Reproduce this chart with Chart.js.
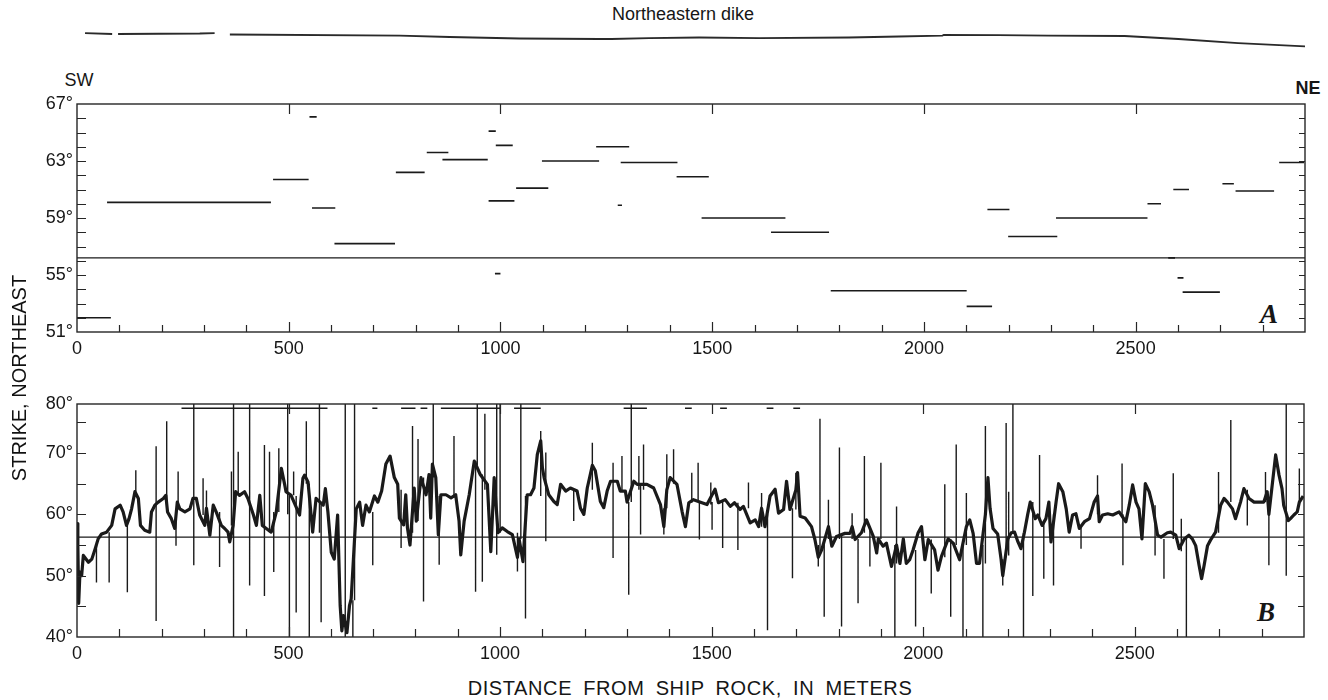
<!DOCTYPE html>
<html><head><meta charset="utf-8">
<script src="https://cdn.jsdelivr.net/npm/chart.js@4.4.1/dist/chart.umd.min.js"></script>
<style>
html,body{margin:0;padding:0;background:#fff}
body{width:1328px;height:700px;overflow:hidden;position:relative;font-family:"Liberation Sans",Arial,Helvetica,sans-serif;color:#161616}
canvas{position:absolute;left:0}
.t{position:absolute;white-space:nowrap;line-height:1;color:#161616}
.rot{filter:grayscale(100%);color:#111}
</style></head>
<body>
<div class="t" style="left:683px;top:14px;transform:translate(-50%,-50%);font-size:18px">Northeastern dike</div>
<div class="t" style="left:79px;top:80px;transform:translate(-50%,-50%);font-size:18px">SW</div>
<div class="t" style="left:1308px;top:88px;transform:translate(-50%,-50%);font-size:18px;font-weight:bold">NE</div>
<div class="t rot" style="left:19px;top:378px;transform:translate(-50%,-50%) rotate(-90deg);font-size:20px">STRIKE, NORTHEAST</div>
<div class="t" style="left:690px;top:688px;transform:translate(-50%,-50%);font-size:20px;letter-spacing:0.6px;word-spacing:5px">DISTANCE FROM SHIP ROCK, IN METERS</div>
<div class="t" style="left:1269px;top:314px;transform:translate(-50%,-50%);font-size:27px;font-weight:bold;font-style:italic;font-family:'Liberation Serif','DejaVu Serif',serif">A</div>
<div class="t" style="left:1266px;top:612px;transform:translate(-50%,-50%);font-size:27px;font-weight:bold;font-style:italic;font-family:'Liberation Serif','DejaVu Serif',serif">B</div>

<canvas id="dike" width="1328" height="40" style="top:20px"></canvas>
<canvas id="panelA" width="1328" height="300" style="top:80px"></canvas>
<canvas id="panelB" width="1328" height="290" style="top:380px"></canvas>

<script>
// ---------- tick labels ----------
const xTickValues = [0, 500, 1000, 1500, 2000, 2500];
const aTickValues = [51, 55, 59, 63, 67];
const bTickValues = [40, 50, 60, 70, 78];
const bTickLabels = ['40°', '50°', '60°', '70°', '80°'];

// ---------- map trace of the northeastern dike (distance m, lateral offset m) ----------
const dikeDist   = [19, 83, 90, 97, 290, 325, 340, 361, 762, 880, 1045, 1233, 1262, 1351, 1469, 1611, 1823, 1941, 2044, 2047, 2176, 2294, 2474, 2601, 2742, 2900];
const dikeOffset = [33, 30.7, null, 30.7, 31.9, 33, null, 29.5, 27.1, 23.6, 20.1, 18.9, 18.9, 21.2, 22.4, 21.2, 22.4, 24.8, 27.1, 28.8, 28.3, 27.1, 26, 18.9, 9.4, 1.4];

// ---------- panel A: average strike over segments ----------
const segStart  = [0, 71, 463, 549, 555, 608, 753, 826, 863, 972, 972, 989, 987, 1037, 1098, 1226, 1284, 1277, 1416, 1475, 1639, 1780, 2101, 2150, 2199, 2312, 2528, 2577, 2589, 2599, 2611, 2705, 2736, 2839];
const segEnd    = [80, 458, 547, 566, 610, 751, 821, 877, 970, 989, 1033, 1029, 1000, 1113, 1233, 1304, 1418, 1287, 1492, 1673, 1776, 2101, 2161, 2202, 2315, 2528, 2560, 2593, 2626, 2613, 2699, 2732, 2827, 2898];
const segStrike = [52.0, 60.1, 61.7, 66.1, 59.7, 57.2, 62.2, 63.6, 63.1, 65.1, 60.2, 64.1, 55.1, 61.1, 63.0, 64.0, 62.9, 59.9, 61.9, 59.0, 58.0, 53.9, 52.8, 59.6, 57.7, 59.0, 60.0, 56.2, 61.0, 54.8, 53.8, 61.4, 60.9, 62.9];
const meanStrikeA = 56.2;

// ---------- panel B: continuous strike band ----------
const bandDist = [0,2,4,7,11,15,27,35,43,50,58,70,82,90,102,109,117,123,129,137,145,150,160,172,176,184,192,204,210,214,223,231,237,243,255,267,274,282,290,302,306,310,314,322,329,341,349,357,361,369,375,384,396,404,417,424,432,438,459,471,483,491,494,506,526,534,538,546,557,565,582,587,593,601,608,616,622,626,630,638,644,648,660,668,675,683,691,703,711,
720,730,740,750,758,762,772,777,781,787,797,802,813,825,832,836,840,848,854,860,872,884,895,903,907,915,927,939,953,970,978,986,995,1005,1017,1029,1041,1045,1054,1064,1072,1080,1088,1096,1100,1104,1115,1127,1135,1143,1155,1166,1182,1190,1198,1206,1218,1225,1237,1245,1253,1261,1277,1284,1296,1300,1316,1324,1347,1363,1379,1387,1394,1402,1418,1430,
1438,1446,1457,1477,1489,1508,1516,1532,1544,1554,1567,1575,1591,1603,1611,1618,1626,1638,1650,1658,1670,1677,1685,1699,1703,1709,1721,1736,1744,1752,1760,1776,1784,1795,1815,1827,1832,1839,1854,1866,1882,1890,1894,1905,1913,1925,1937,1945,1953,1960,1968,1976,1988,1996,2004,2012,2027,2035,2043,2059,2071,2086,2102,2110,2118,2126,2133,2147,
2153,2158,2165,2176,2184,2188,2200,2208,2216,2224,2231,2239,2247,2253,2265,2271,2281,2290,2297,2302,2314,2320,2330,2338,2345,2353,2361,2369,2381,2393,2404,2412,2416,2424,2436,2448,2463,2479,2487,2495,2503,2510,2517,2525,2534,2542,2554,2562,2577,2585,2597,2605,2617,2628,2636,2644,2652,2658,2664,2672,2679,2691,2703,2711,2719,2731,2738,2750,2758,2770,2782,2793,2805,2813,2817,2833,2841,2848,2852,2863,2868,2876,2884,2889,2898];
const bandStrike = [58.5,55,45.5,50.6,50,53.3,52.2,52.7,54.4,56.0,56.8,57.1,58.2,60.9,61.5,60.4,58.2,59.3,60.9,63.7,62.6,58.2,57.4,57.1,60.4,61.5,62.0,62.6,63.1,60.4,59.3,57.7,62.0,60.9,60.4,60.9,62.6,62.6,59.9,58.2,61,58.8,56.6,61.5,60.4,58.2,57.7,57.1,55.5,58.2,63.7,63.1,63.7,62.6,59.9,58.2,63.1,58.2,57.1,60.4,67.5,64.8,63.7,63.1,59.9,65.9,66.4,65.3,57.1,62.6,61.5,64.2,60.4,53.8,52.7,59.9,45.1,41.0,43.5,40.7,45.1,46.2,60.9,62.0,58.2,61.5,60.4,63.0,62.0,
63.8,68.2,69.5,66.0,64.9,59.4,58.3,63.2,57.8,55.0,64.3,58.9,66.0,63.2,66.5,59.4,68.2,66.0,56.7,63.2,63.2,62.7,63.2,58.9,53.4,58.9,63.2,68.7,66.5,64.9,53.9,66.0,57,57.8,57.2,56.7,53,56,52.3,63.2,63.2,64.3,69.8,72,67.6,66.0,63.2,62.1,61.6,64.9,63.8,64.3,63.8,61,60,64.3,68,67.1,62.1,61.1,63.8,65.4,65.4,63.8,63.8,62,65.4,64.9,64.9,64.3,61.6,58,64,66.0,64.9,60.5,
58,61.9,62.4,61.9,61.6,64.1,61.9,62.4,61.3,61.9,60.8,61.3,58.6,59.1,58.0,61,58.0,63.0,64.1,60.2,60.8,65.4,60.8,64,66.8,59.7,59.4,58.0,55.9,53,54.2,58,54.8,56.4,56.9,56.9,58,55.9,57,59.1,56.4,53.7,56,54.8,55.3,51.5,55,52,56.0,52.0,52.6,54.2,57,58.0,52.6,55.9,54.2,50.9,53.1,56,55.3,52.6,58,59.1,56.9,52.0,52.0,60,
66,61.0,57.7,56.8,52.7,50,56,57,57.1,55.5,54.4,57,60,62,59.3,59.9,58.2,59.3,62.0,55.5,62,65.0,63.7,60.9,57.1,59.9,60.1,57.7,58.8,59.3,62.0,63,58.8,59.9,60.1,59.9,60.4,58.8,61.5,64.8,62.0,60.9,56.0,65,63.7,61.5,56.6,56.3,57,57.1,56.6,54.4,56.0,56.6,56.0,54.9,51.7,49.5,51.7,54.9,55.8,57.1,61.5,62.6,62.0,60.9,59.3,62.0,64.2,62.6,62.0,62.0,62.0,63.7,60,69.7,66.4,64.2,61.5,59,59.3,59.9,60.4,62,63];

// ---------- panel B: narrow spikes (distance, low end, high end); 90 / 30 = off scale ----------
const spikeDist = [46,76,119,139,187,212,234,239,276,298,306,337,365,370,381,408,443,455,465,477,498,502,512,518,542,549,573,577,634,652,656,699,
766,793,806,819,842,856,891,942,946,958,964,992,1000,1041,1049,1060,1096,1108,1174,1218,1267,1288,1304,1310,1328,1332,1339,1387,1394,1410,
1453,1468,1471,1498,1501,1526,1562,1587,1618,1632,1691,1699,1752,1756,1766,1776,1802,1807,1832,1846,1861,1874,1900,1933,1937,1982,2019,2051,2065,2078,2094,2102,2141,2147,
2188,2196,2202,2212,2237,2259,2275,2285,2308,2373,2412,2470,2472,2548,2569,2591,2610,2622,2698,2727,2766,2809,2817,2858,2889];
const spikeLow  = [48.9,48.9,47.3,63.7,42.6,60.4,54.9,62,51.7,59.9,58.8,51.4,58.2,30,63.1,48.4,46.7,57.1,50.6,60.4,60,30,63.1,44.0,65,30,57,42.4,40,30,46,51.7,
54.5,57,58.9,45.8,66,51.8,62.7,47.4,68,49.0,64,53.4,57,50.7,56,43.0,63,55.6,58.9,64,52.9,63.8,46.9,62,64,56.7,64,56.7,61,65,
61.9,62,55.9,61.6,57.5,54.5,54.2,61,58,41.1,49.6,60.8,51.5,54,43.3,56,56,41.7,56,45.5,57,51.5,56,30,52,41.7,47.1,53,43.3,55,30,55,30,52,
48.4,53,53.3,57,30,46.7,59,49.5,48.4,54.4,60,60,51.7,53.3,49.5,56,54,30,57,62,58.2,62,51.7,50.0,62];
const spikeHigh = [55,57.1,58.2,67.2,71.1,75.2,59,67.0,90,65.9,63.9,60.4,67.0,90,70.2,90,71.3,70.2,60.4,70.8,90,63,67.0,63,75.2,65,90,62,90,46,90,60.4,
64,74.4,72.3,66,90,63,72.8,68.7,90,66.5,76.4,90,90,57,90,63,73.6,70.1,64,71.7,68.4,69.5,62,90,69.5,65,71.4,61,69.8,70.6,
66.8,68.4,62,65.2,62,62,61.9,65.2,63.5,60,61,66.8,55,75.6,56,62.4,70.9,56.9,60.2,56,69.5,58,68.4,55,61.3,54.2,55.9,64.9,56,71.4,55,63.5,55,74.4,
52.7,74.9,63.7,90,57,62,69.7,59,60,58,66.4,68.3,60,61.5,56,66.7,59.3,56,66.9,75.4,64,66.9,62,90,67.5];
const meanStrikeB = 56.3;

// off-scale markers drawn near the top of panel B
const offscaleStart = [247, 698, 766, 812, 860, 1033, 1292, 1437, 1520, 1630, 1693];
const offscaleEnd   = [592, 710, 800, 828, 1002, 1096, 1347, 1453, 1536, 1646, 1709];
const offscaleLevel = 77.3;

// ---------- helpers ----------
const INK = '#1a1a1a';
Chart.defaults.font.family = '"Liberation Sans", Arial, Helvetica, sans-serif';
Chart.defaults.font.size = 18;
Chart.defaults.color = '#161616';
Chart.defaults.animation = false;

function segments(starts, ends, levels) {
  const out = [];
  for (let i = 0; i < starts.length; i++) {
    const lv = Array.isArray(levels) ? levels[i] : levels;
    out.push({x: starts[i], y: lv}, {x: ends[i], y: lv}, {x: ends[i], y: null});
  }
  return out;
}
function verticals(xs, lows, highs) {
  const out = [];
  for (let i = 0; i < xs.length; i++) {
    out.push({x: xs[i], y: lows[i]}, {x: xs[i], y: highs[i]}, {x: xs[i], y: null});
  }
  return out;
}
function pairs(xs, ys) { return xs.map((x, i) => ({x, y: ys[i]})); }

const frameTicks = {
  id: 'frameTicks',
  afterDatasetsDraw(chart, args, o) {
    if (!o || !o.on) return;
    const {ctx, chartArea: a, scales: {x, y}} = chart;
    ctx.save();
    ctx.strokeStyle = '#262626';
    ctx.lineWidth = 1.4;
    ctx.strokeRect(a.left, a.top, a.right - a.left, a.bottom - a.top);
    ctx.lineWidth = 1.2;
    ctx.beginPath();
    for (let v = 100; v < 2900; v += 100) {
      const px = Math.round(x.getPixelForValue(v)) + 0.5;
      const major = v % 500 === 0;
      ctx.moveTo(px, a.bottom);
      ctx.lineTo(px, a.bottom - (major ? o.majorLen : o.minorLen));
      if (major) { ctx.moveTo(px, a.top); ctx.lineTo(px, a.top + o.topLen); }
    }
    for (let v = o.yFrom; v <= o.yTo + 1e-9; v += o.yStep) {
      const py = Math.round(y.getPixelForValue(v)) + 0.5;
      ctx.moveTo(a.left, py); ctx.lineTo(a.left + o.leftLen, py);
      ctx.moveTo(a.right, py); ctx.lineTo(a.right - o.rightLen, py);
    }
    ctx.stroke();
    ctx.restore();
  }
};

function scalesFor(yMin, yMax, yTicks, yLabel, xHeight) {
  return {
    x: {
      type: 'linear', min: 0, max: 2900,
      afterBuildTicks: s => { s.ticks = xTickValues.map(v => ({value: v})); },
      afterFit: s => { s.height = xHeight; },
      grid: {display: false, drawTicks: false}, border: {display: false},
      ticks: {padding: 6, autoSkip: false, maxRotation: 0, color: '#161616', callback: v => String(v)}
    },
    y: {
      type: 'linear', min: yMin, max: yMax,
      afterBuildTicks: s => { s.ticks = yTicks.map(v => ({value: v})); },
      afterFit: s => { s.width = 77; },
      grid: {display: false, drawTicks: false}, border: {display: false},
      ticks: {padding: 4, autoSkip: false, color: '#161616', callback: yLabel}
    }
  };
}

const common = {
  responsive: false, animation: false, events: [],
  plugins: {legend: {display: false}, tooltip: {enabled: false}},
  elements: {point: {radius: 0}, line: {tension: 0}}
};

// ---------- dike trace ----------
new Chart(document.getElementById('dike'), {
  type: 'line',
  data: {datasets: [{data: pairs(dikeDist, dikeOffset), borderColor: '#2a2a2a', borderWidth: 1.8, spanGaps: false}]},
  options: Object.assign({}, common, {
    layout: {padding: {left: 77, right: 23, top: 5, bottom: 5}},
    scales: {
      x: {type: 'linear', min: 0, max: 2900, display: false},
      y: {type: 'linear', min: -18.9, max: 52, display: false}
    }
  })
});

// ---------- panel A ----------
new Chart(document.getElementById('panelA'), {
  type: 'line',
  data: {datasets: [
    {data: segments(segStart, segEnd, segStrike), borderColor: INK, borderWidth: 1.6, spanGaps: false},
    {data: [{x: 0, y: meanStrikeA}, {x: 2900, y: meanStrikeA}], borderColor: INK, borderWidth: 1.3}
  ]},
  options: Object.assign({}, common, {
    layout: {padding: {left: 0, right: 23, top: 24, bottom: 0}},
    scales: scalesFor(51, 67, aTickValues, v => v + '°', 48),
    plugins: Object.assign({}, common.plugins, {
      frameTicks: {on: true, majorLen: 10, minorLen: 7, topLen: 10, yFrom: 52, yTo: 66, yStep: 1, leftLen: 9, rightLen: 6}
    })
  }),
  plugins: [frameTicks]
});

// ---------- panel B ----------
new Chart(document.getElementById('panelB'), {
  type: 'line',
  data: {datasets: [
    {data: pairs(bandDist, bandStrike), borderColor: INK, borderWidth: 3.2, borderJoinStyle: 'round', spanGaps: false, clip: 0},
    {data: verticals(spikeDist, spikeLow, spikeHigh), borderColor: INK, borderWidth: 1.4, spanGaps: false, clip: 0},
    {data: [{x: 0, y: meanStrikeB}, {x: 2900, y: meanStrikeB}], borderColor: INK, borderWidth: 1.3},
    {data: segments(offscaleStart, offscaleEnd, offscaleLevel), borderColor: INK, borderWidth: 1.5, spanGaps: false}
  ]},
  options: Object.assign({}, common, {
    layout: {padding: {left: 0, right: 24, top: 24, bottom: 0}},
    scales: scalesFor(40, 78, bTickValues, (v, i) => bTickLabels[i], 33),
    plugins: Object.assign({}, common.plugins, {
      frameTicks: {on: true, majorLen: 10, minorLen: 8, topLen: 10, yFrom: 45, yTo: 75, yStep: 5, leftLen: 9, rightLen: 6}
    })
  }),
  plugins: [frameTicks]
});
</script>
</body></html>
